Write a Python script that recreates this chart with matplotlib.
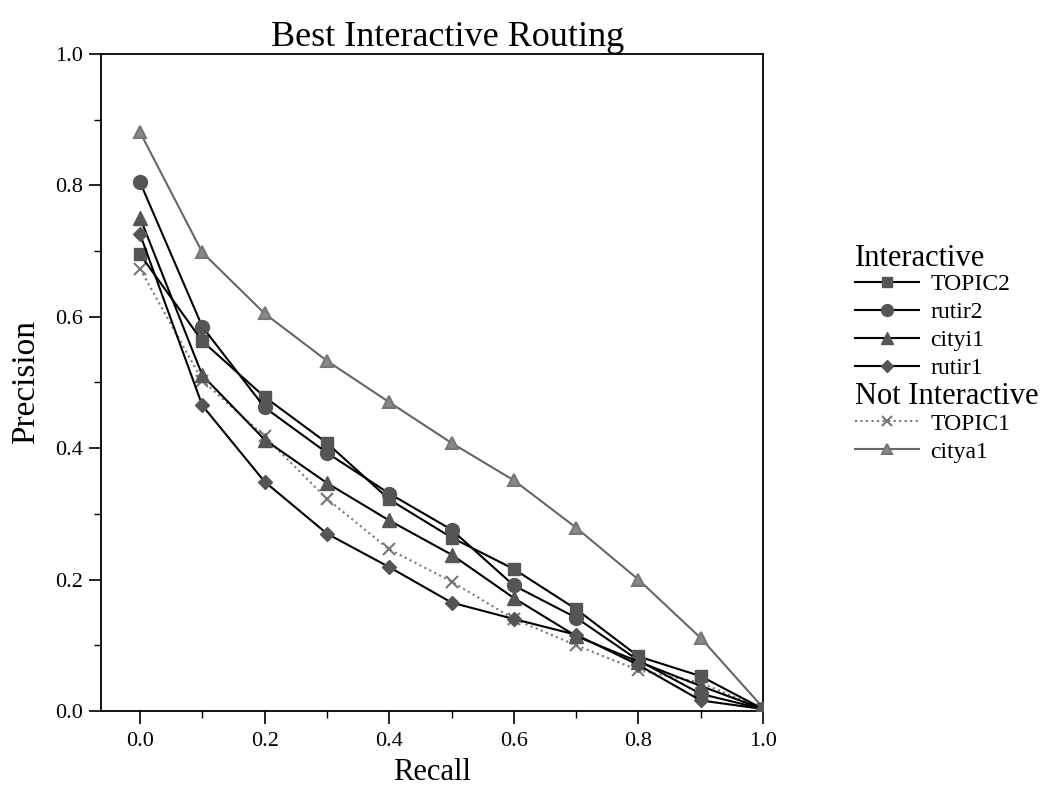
import matplotlib.pyplot as plt
from matplotlib.ticker import MultipleLocator
from matplotlib.lines import Line2D

plt.rcParams['font.family'] = ['Liberation Serif', 'DejaVu Serif']

recall = [0.0, 0.1, 0.2, 0.3, 0.4, 0.5, 0.6, 0.7, 0.8, 0.9, 1.0]

topic2 = [0.695, 0.563, 0.478, 0.408, 0.322, 0.264, 0.216, 0.155, 0.083, 0.053, 0.003]
rutir2 = [0.805, 0.585, 0.462, 0.393, 0.331, 0.276, 0.191, 0.142, 0.077, 0.026, 0.003]
cityi1 = [0.751, 0.511, 0.413, 0.347, 0.290, 0.238, 0.172, 0.114, 0.075, 0.038, 0.003]
rutir1 = [0.726, 0.465, 0.349, 0.270, 0.219, 0.165, 0.140, 0.116, 0.070, 0.016, 0.003]
topic1 = [0.673, 0.503, 0.418, 0.323, 0.246, 0.197, 0.140, 0.100, 0.062, 0.043, 0.003]
citya1 = [0.881, 0.698, 0.605, 0.533, 0.470, 0.408, 0.351, 0.279, 0.200, 0.111, 0.005]

fig = plt.figure(figsize=(10.45, 7.87), dpi=100)
ax = fig.add_axes([0.0967, 0.0966, 0.6335, 0.8348])

mk = '#555555'
series = [
    ('TOPIC2', topic2, 's', 'black', '-', 9),
    ('rutir2', rutir2, 'o', 'black', '-', 10),
    ('cityi1', cityi1, '^', 'black', '-', 10),
    ('rutir1', rutir1, 'D', 'black', '-', 7),
]
others = [
    ('TOPIC1', topic1, 'x', '#777777', ':', 9),
    ('citya1', citya1, '^', '#666666', '-', 9),
]

h1 = []
for name, vals, m, c, ls, ms in series:
    ax.plot(recall, vals, color=c, linestyle=ls, linewidth=1.5, marker=m,
            markersize=ms, markerfacecolor=mk, markeredgecolor=mk, zorder=3)
    h1.append(Line2D([], [], color=c, linestyle=ls, linewidth=1.5, marker=m,
                     markersize=ms * 0.85, markerfacecolor=mk, markeredgecolor=mk))
h2 = []
for name, vals, m, c, ls, ms in others:
    ax.plot(recall, vals, color=c, linestyle=ls, linewidth=1.5, marker=m,
            markersize=ms, markerfacecolor='#888888', markeredgecolor='#777777',
            markeredgewidth=1.5, zorder=2)
    h2.append(Line2D([], [], color=c, linestyle=ls, linewidth=1.5, marker=m,
                     markersize=ms * 0.85, markerfacecolor='#888888',
                     markeredgecolor='#777777', markeredgewidth=1.5))

ax.set_xlim(-0.0625, 1.0)
ax.set_ylim(0.0, 1.0)
ax.xaxis.set_major_locator(MultipleLocator(0.2))
ax.xaxis.set_minor_locator(MultipleLocator(0.1))
ax.yaxis.set_major_locator(MultipleLocator(0.2))
ax.yaxis.set_minor_locator(MultipleLocator(0.1))
ax.tick_params(which='major', direction='out', length=9, width=1.2, labelsize=16)
ax.tick_params(axis='x', which='major', pad=6)
ax.tick_params(axis='y', which='major', pad=4)
ax.tick_params(which='minor', direction='out', length=5, width=1.0)
ax.set_xticks([0.0, 0.2, 0.4, 0.6, 0.8, 1.0])
ax.set_xticklabels(['0.0', '0.2', '0.4', '0.6', '0.8', '1.0'])
for s in ax.spines.values():
    s.set_linewidth(1.3)

ax.set_title('Best Interactive Routing', fontsize=26, pad=6, x=0.523)
ax.set_xlabel('Recall', fontsize=22, labelpad=5)
ax.set_ylabel('Precision', fontsize=24, labelpad=10)

# group headers drawn as text, legends without titles
fig.text(0.818, 1 - 259 / 787, 'Interactive', fontsize=22, va='center', ha='left')
fig.text(0.818, 1 - 397 / 787, 'Not Interactive', fontsize=22, va='center', ha='left')

kw = dict(loc='upper left', frameon=False, fontsize=17,
          handlelength=2.7, handletextpad=0.5, labelspacing=0.27, borderpad=0,
          borderaxespad=0)
leg1 = fig.legend(h1, [s[0] for s in series], bbox_to_anchor=(0.818, 0.652), **kw)
leg2 = fig.legend(h2, [s[0] for s in others], bbox_to_anchor=(0.818, 0.475), **kw)

fig.savefig('out.png', dpi=100)
